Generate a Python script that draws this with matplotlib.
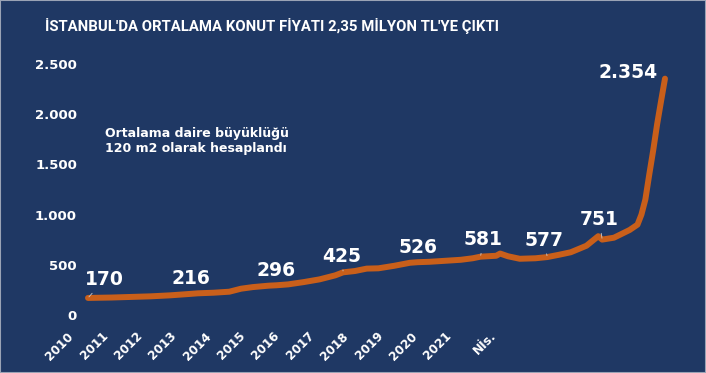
import matplotlib.pyplot as plt
from matplotlib.patches import Rectangle

# ay (Ocak 2010 = 0) ve ortalama konut fiyatı (bin TL)
months = [0, 6, 11, 16, 21, 26, 28, 32, 36, 39, 42, 46, 48, 51, 55, 59, 63, 65,
          68, 71, 74, 78, 82, 84, 87, 91, 95, 98, 100, 104, 105, 107, 110, 114,
          117, 120, 123, 127, 130, 131, 134, 138, 140, 141, 142, 143, 144, 145,
          146, 147]
prices = [170, 174, 180, 186, 196, 210, 216, 222, 232, 262, 278, 292, 296, 305,
          328, 355, 395, 425, 438, 462, 465, 490, 520, 526, 530, 540, 550, 565,
          581, 590, 612, 585, 560, 565, 577, 600, 625, 690, 785, 751, 770, 847,
          900, 1000, 1150, 1400, 1640, 1900, 2130, 2354]

# etiketli noktalar
label_months = [0, 28, 48, 65, 84, 100, 117, 131, 147]
label_values = [170, 216, 296, 425, 526, 581, 577, 751, 2354]
label_offsets = [(16, 18), (-7, 15), (0, 15), (-1, 16), (0, 15), (3, 17), (-3, 17), (-3, 20), (-37, 6)]
label_leader = [True, False, False, True, False, True, True, True, False]

year_labels = ['2010', '2011', '2012', '2013', '2014', '2015', '2016', '2017',
               '2018', '2019', '2020', '2021', 'Nİs.']
year_pos = list(range(12)) + [12.3]

yticks = [0, 500, 1000, 1500, 2000, 2500]

bg = '#1f3864'
orange = '#c95f1a'

def tr_fmt(v):
    return f"{v:,}".replace(',', '.')

W, H = 706, 373
fig = plt.figure(figsize=(W / 100, H / 100), dpi=100, facecolor=bg)
fig.patches.append(Rectangle((0, 0), 1, 1, transform=fig.transFigure,
                             fill=False, edgecolor='#9aa3b5', linewidth=1.5))

# ana grafik alanı
x0_px, px_per_month = 88, 3.925
ax_l, ax_r, ax_b, ax_t = 82, 680, 315, 64
ax = fig.add_axes([ax_l / W, (H - ax_b) / H, (ax_r - ax_l) / W, (ax_b - ax_t) / H])
ax.set_facecolor(bg)
ax.set_xlim((ax_l - x0_px) / px_per_month, (ax_r - x0_px) / px_per_month)
ax.set_ylim(0, 2500)
for s in ax.spines.values():
    s.set_visible(False)
ax.set_xticks([])
ax.set_yticks(yticks)
ax.set_yticklabels([tr_fmt(v) for v in yticks])
ax.tick_params(axis='y', length=0, pad=3.6, labelsize=9.5, labelcolor='white')
for t in ax.get_yticklabels():
    t.set_fontweight('bold')

ax.plot(months, prices, color=orange, lw=4.3, solid_capstyle='round',
        solid_joinstyle='round', clip_on=False)

for m, v, off, lead in zip(label_months, label_values, label_offsets, label_leader):
    kw = {}
    if lead:
        kw['arrowprops'] = dict(arrowstyle='-', color='#c8c8c8', lw=0.6,
                                shrinkA=1, shrinkB=1)
    ax.annotate(tr_fmt(v), xy=(m, v), xytext=off, textcoords='offset pixels',
                ha='center', va='center', color='white', fontsize=13.5,
                fontweight='bold', annotation_clip=False, **kw)

# yıl etiketleri
ax2 = fig.add_axes([0, (H - ax_b) / H, 1, 0.001])
ax2.patch.set_visible(False)
for s in ax2.spines.values():
    s.set_visible(False)
ax2.set_yticks([])
cat_px0, cat_step = 67, 34.36
ax2.set_xlim(-cat_px0 / cat_step, (W - cat_px0) / cat_step)
ax2.set_xticks(year_pos)
ax2.set_xticklabels(year_labels, rotation=45, ha='right', va='top',
                    rotation_mode='anchor', fontsize=8.7, fontweight='bold',
                    color='white')
ax2.tick_params(axis='x', length=0, pad=10.5)

fig.text(45 / W, 1 - 26 / H, "İSTANBUL'DA ORTALAMA KONUT FİYATI 2,35 MİLYON TL'YE ÇIKTI",
         ha='left', va='center', color='white', fontsize=10.7, fontweight='bold',
         family=['Roboto', 'DejaVu Sans'])
fig.text(105 / W, 1 - 141 / H, "Ortalama daire büyüklüğü\n120 m2 olarak hesaplandı",
         ha='left', va='center', color='white', fontsize=9, fontweight='bold',
         linespacing=1.25)

fig.savefig('out.png', dpi=100, facecolor=bg)
